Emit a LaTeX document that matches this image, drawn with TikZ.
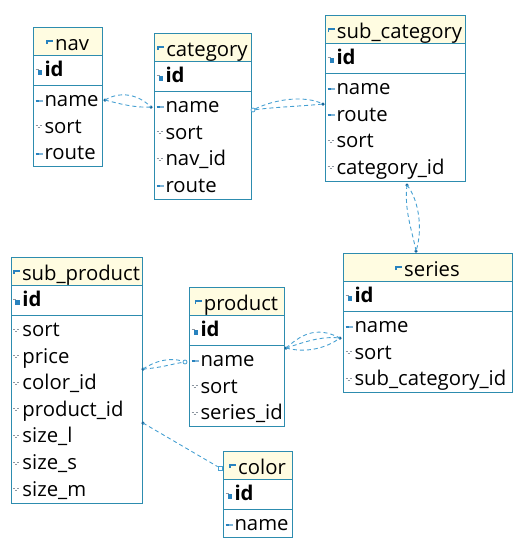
\documentclass[tikz,border=0pt]{standalone}
\usepackage{fontspec}
\setmainfont{Open Sans}
\definecolor{bord}{RGB}{45,140,175}
\definecolor{hdr}{RGB}{255,252,225}
\definecolor{lnc}{RGB}{70,160,210}
\definecolor{dotc}{RGB}{25,100,150}
\definecolor{icb}{RGB}{40,130,190}
\definecolor{icg}{RGB}{140,150,160}
\newcommand\icoH{\makebox[9pt][l]{\textcolor{icb}{\rule[6pt]{1.5pt}{4pt}\rule[8pt]{5.5pt}{2pt}}}}
\newcommand\icoK{\makebox[10pt][l]{\hspace{1pt}\textcolor{icg}{\rule[7pt]{3pt}{1pt}}\hspace{-1pt}\textcolor{icb}{\rule[2pt]{4.5pt}{4.5pt}}}}
\newcommand\icoB{\makebox[10pt][l]{\hspace{1pt}\textcolor{icb}{\rule[5pt]{3pt}{2pt}}\hspace{0.8pt}\textcolor{icb!60}{\rule[5pt]{4pt}{2pt}}}}
\newcommand\icoG{\makebox[10pt][l]{\hspace{1pt}\textcolor{icg}{\rule[7pt]{2pt}{0.9pt}\rule[5pt]{2pt}{0.9pt}\rule[7pt]{2pt}{0.9pt}}}}
\tikzset{
  txt/.style={inner sep=0pt, outer sep=0pt, font=\fontsize{20.3}{24}\selectfont},
  tblline/.style={draw=bord, line width=0.9pt},
  hdrfill/.style={fill=hdr},
  conn/.style={draw=lnc, dash pattern=on 4pt off 3pt, line width=0.9pt},
  dotm/.style={circle, fill=dotc, inner sep=0pt, minimum size=3.5pt},
  circm/.style={circle, draw=lnc, fill=white, line width=0.8pt, inner sep=0pt, minimum size=4pt},
  sqm/.style={rectangle, draw=lnc, fill=white, line width=0.8pt, inner sep=0pt, minimum size=4pt}
}
\newcommand\erdtable[6]{%
  \pgfmathsetmacro\erdHB{#4+28.5}%
  \pgfmathsetmacro\erdIB{#4+58}%
  \pgfmathsetmacro\erdBT{#4+60+26.6*#5}%
  \pgfmathsetmacro\erdXM{(#2+#3)/2}%
  \pgfmathsetmacro\erdHBase{#4+23}%
  \pgfmathsetmacro\erdIBase{#4+49.5}%
  \fill[hdrfill] (#2,#4) rectangle (#3,\erdHB);
  \draw[tblline] (#2,#4) rectangle (#3,\erdBT);
  \draw[tblline] (#2,\erdHB) -- (#3,\erdHB) (#2,\erdIB) -- (#3,\erdIB);
  \node[txt, anchor=base] (#1-title) at (\erdXM,\erdHBase) {\icoH#6};
  \node[txt, anchor=base west] (#1-id) at (#2+1.5,\erdIBase) {\icoK\textbf{id}};
}
\newcommand\erdrow[6]{%
  \pgfmathsetmacro\erdY{#3+79.5+26.6*#4}%
  \node[txt, anchor=base west] (#1) at (#2+1.5,\erdY) {#5#6};
}
\begin{document}
\begin{tikzpicture}[x=1pt, y=-1pt]
\useasboundingbox (0,0) rectangle (526,558);
% nav
\erdtable{nav}{33}{102}{27}{3}{nav}
\erdrow{nav-name}{33}{27}{0}{\icoB}{name}
\erdrow{nav-sort}{33}{27}{1}{\icoG}{sort}
\erdrow{nav-route}{33}{27}{2}{\icoB}{route}
% category
\erdtable{cat}{154}{251}{33}{4}{category}
\erdrow{cat-name}{154}{33}{0}{\icoB}{name}
\erdrow{cat-sort}{154}{33}{1}{\icoG}{sort}
\erdrow{cat-navid}{154}{33}{2}{\icoG}{nav\_id}
\erdrow{cat-route}{154}{33}{3}{\icoB}{route}
% sub_category
\erdtable{sc}{325}{465}{15}{4}{sub\_category}
\erdrow{sc-name}{325}{15}{0}{\icoB}{name}
\erdrow{sc-route}{325}{15}{1}{\icoB}{route}
\erdrow{sc-sort}{325}{15}{2}{\icoG}{sort}
\erdrow{sc-catid}{325}{15}{3}{\icoG}{category\_id}
% series
\erdtable{ser}{343}{512}{253}{3}{series}
\erdrow{ser-name}{343}{253}{0}{\icoB}{name}
\erdrow{ser-sort}{343}{253}{1}{\icoG}{sort}
\erdrow{ser-scid}{343}{253}{2}{\icoG}{sub\_category\_id}
% sub_product
\erdtable{sp}{11}{142}{257}{7}{sub\_product}
\erdrow{sp-sort}{11}{257}{0}{\icoG}{sort}
\erdrow{sp-price}{11}{257}{1}{\icoG}{price}
\erdrow{sp-colorid}{11}{257}{2}{\icoG}{color\_id}
\erdrow{sp-productid}{11}{257}{3}{\icoG}{product\_id}
\erdrow{sp-sizel}{11}{257}{4}{\icoG}{size\_l}
\erdrow{sp-sizes}{11}{257}{5}{\icoG}{size\_s}
\erdrow{sp-sizem}{11}{257}{6}{\icoG}{size\_m}
% product
\erdtable{pr}{189}{284}{287}{3}{product}
\erdrow{pr-name}{189}{287}{0}{\icoB}{name}
\erdrow{pr-sort}{189}{287}{1}{\icoG}{sort}
\erdrow{pr-serid}{189}{287}{2}{\icoG}{series\_id}
% color
\erdtable{col}{223}{292}{451}{1}{color}
\erdrow{col-name}{223}{451}{0}{\icoB}{name}
% connectors
\node[dotm] (a1) at (105,100) {};
\node[dotm] (b1) at (151,107) {};
\draw[conn] (a1.center) .. controls (120,91) and (138,94) .. (b1.center);
\draw[conn] (a1.center) .. controls (120,104) and (136,108) .. (b1.center);
\node[circm] (a2) at (253,110) {};
\node[dotm] (b2) at (323,104) {};
\draw[conn] (a2) .. controls (275,99) and (305,95) .. (b2.center);
\draw[conn] (a2) .. controls (275,107) and (305,106) .. (b2.center);
\node[dotm] (a3) at (407,185) {};
\node[dotm] (b3) at (416,251) {};
\draw[conn] (a3.center) .. controls (404,210) and (412,230) .. (b3.center);
\draw[conn] (a3.center) .. controls (419,200) and (423,230) .. (b3.center);
\node[dotm] (a4) at (286,348) {};
\node[dotm] (b4) at (340,338) {};
\draw[conn] (a4.center) .. controls (300,336) and (315,325) .. (b4.center);
\draw[conn] (a4.center) .. controls (305,342) and (320,336) .. (b4.center);
\draw[conn] (a4.center) .. controls (305,353) and (325,349) .. (b4.center);
\node[dotm] (a5) at (143,369) {};
\node[circm] (b5) at (185,362) {};
\draw[conn] (a5.center) .. controls (155,361) and (170,357) .. (b5);
\draw[conn] (a5.center) .. controls (160,368) and (172,364) .. (b5);
\node[dotm] (a6) at (143,423) {};
\node[sqm] (b6) at (220,468) {};
\draw[conn] (a6.center) -- (b6);
\end{tikzpicture}
\end{document}
